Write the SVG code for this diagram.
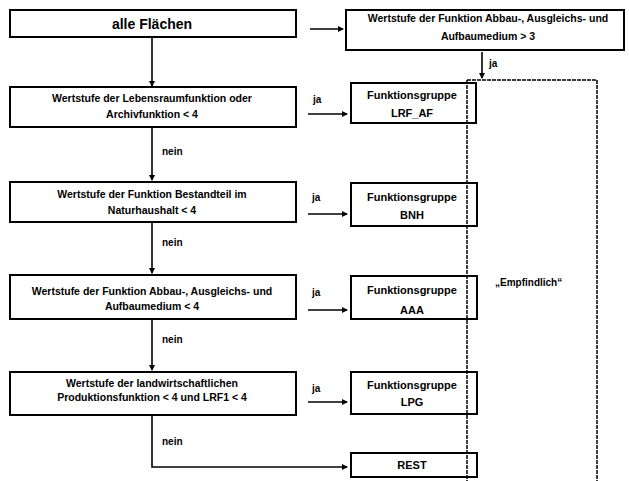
<svg xmlns="http://www.w3.org/2000/svg" width="629" height="481" viewBox="0 0 629 481">
<defs>
<marker id="ah" markerWidth="6" markerHeight="6" refX="5" refY="3" orient="auto" markerUnits="userSpaceOnUse">
<path d="M0,0 L6,3 L0,6 Z" fill="#000"/>
</marker>
<style>
.box{fill:#fff;stroke:#000;stroke-width:2}
.t{font-family:"Liberation Sans",Arial,sans-serif;font-weight:bold;font-size:10.5px;fill:#000;text-anchor:middle}
.f{font-size:11px}
.l{font-family:"Liberation Sans",Arial,sans-serif;font-weight:bold;font-size:10px;fill:#000}
.c{stroke:#000;stroke-width:1.6;fill:none}
.d{stroke:#000;stroke-width:1.5;fill:none;stroke-dasharray:4 1}
</style>
</defs>
<rect width="629" height="481" fill="#fff"/>

<g id="empfindlich">
<path class="d" d="M467,80 H597 V481 M467,80 V481"/>
<text class="l" x="495" y="286">„Empfindlich“</text>
</g>

<g id="connectors">
<line class="c" x1="152" y1="38" x2="152" y2="86" marker-end="url(#ah)"/>
<line class="c" x1="310" y1="29" x2="343" y2="29" marker-end="url(#ah)"/>
<line class="c" x1="482" y1="52" x2="482" y2="78" marker-end="url(#ah)"/>
<text class="l" x="489" y="67">ja</text>

<line class="c" x1="152" y1="128" x2="152" y2="180" marker-end="url(#ah)"/>
<text class="l" x="162" y="155">nein</text>
<line class="c" x1="152" y1="223" x2="152" y2="273" marker-end="url(#ah)"/>
<text class="l" x="162" y="246">nein</text>
<line class="c" x1="152" y1="320" x2="152" y2="370" marker-end="url(#ah)"/>
<text class="l" x="162" y="343">nein</text>
<path class="c" d="M152,416 V467 H347" marker-end="url(#ah)"/>
<text class="l" x="162" y="445">nein</text>

<text class="l" x="313" y="103">ja</text>
<line class="c" x1="308" y1="114" x2="347" y2="114" marker-end="url(#ah)"/>
<text class="l" x="312" y="201">ja</text>
<line class="c" x1="308" y1="214" x2="347" y2="214" marker-end="url(#ah)"/>
<text class="l" x="312" y="296">ja</text>
<line class="c" x1="308" y1="310" x2="347" y2="310" marker-end="url(#ah)"/>
<text class="l" x="312" y="392">ja</text>
<line class="c" x1="308" y1="402" x2="347" y2="402" marker-end="url(#ah)"/>
</g>

<g id="alle">
<rect class="box" x="10" y="10" width="286" height="27"/>
<text class="t" x="152" y="29" style="font-size:14px">alle Flächen</text>
</g>

<g id="top-right">
<rect class="box" x="346" y="10" width="278" height="40"/>
<text class="t" x="488" y="22">Wertstufe der Funktion Abbau-, Ausgleichs- und</text>
<text class="t" x="488" y="40">Aufbaumedium &gt; 3</text>
</g>

<g id="q1">
<rect class="box" x="10" y="87" width="286" height="40"/>
<text class="t" x="152" y="102">Wertstufe der Lebensraumfunktion oder</text>
<text class="t" x="152" y="118">Archivfunktion &lt; 4</text>
</g>

<g id="q2">
<rect class="box" x="10" y="182" width="286" height="40"/>
<text class="t" x="152" y="198">Wertstufe der Funktion Bestandteil im</text>
<text class="t" x="152" y="214">Naturhaushalt &lt; 4</text>
</g>

<g id="q3">
<rect class="box" x="10" y="275" width="286" height="44"/>
<text class="t" x="152" y="295">Wertstufe der Funktion Abbau-, Ausgleichs- und</text>
<text class="t" x="152" y="310">Aufbaumedium &lt; 4</text>
</g>

<g id="q4">
<rect class="box" x="10" y="372" width="286" height="43"/>
<text class="t" x="152" y="387">Wertstufe der landwirtschaftlichen</text>
<text class="t" x="152" y="401">Produktionsfunktion &lt; 4 und LRF1 &lt; 4</text>
</g>

<g id="fg-lrf">
<rect class="box" x="351" y="83" width="125" height="40" style="fill:none"/>
<text class="t f" x="412" y="99">Funktionsgruppe</text>
<text class="t f" x="412" y="117">LRF_AF</text>
</g>

<g id="fg-bnh">
<rect class="box" x="351" y="183" width="126" height="43" style="fill:none"/>
<text class="t f" x="412" y="201">Funktionsgruppe</text>
<text class="t f" x="412" y="219">BNH</text>
</g>

<g id="fg-aaa">
<rect class="box" x="351" y="276" width="126" height="43" style="fill:none"/>
<text class="t f" x="412" y="294">Funktionsgruppe</text>
<text class="t f" x="412" y="314">AAA</text>
</g>

<g id="fg-lpg">
<rect class="box" x="351" y="372" width="126" height="42" style="fill:none"/>
<text class="t f" x="412" y="389">Funktionsgruppe</text>
<text class="t f" x="412" y="406">LPG</text>
</g>

<g id="rest">
<rect class="box" x="351" y="453" width="126" height="24" style="fill:none"/>
<text class="t f" x="412" y="469">REST</text>
</g>
</svg>
